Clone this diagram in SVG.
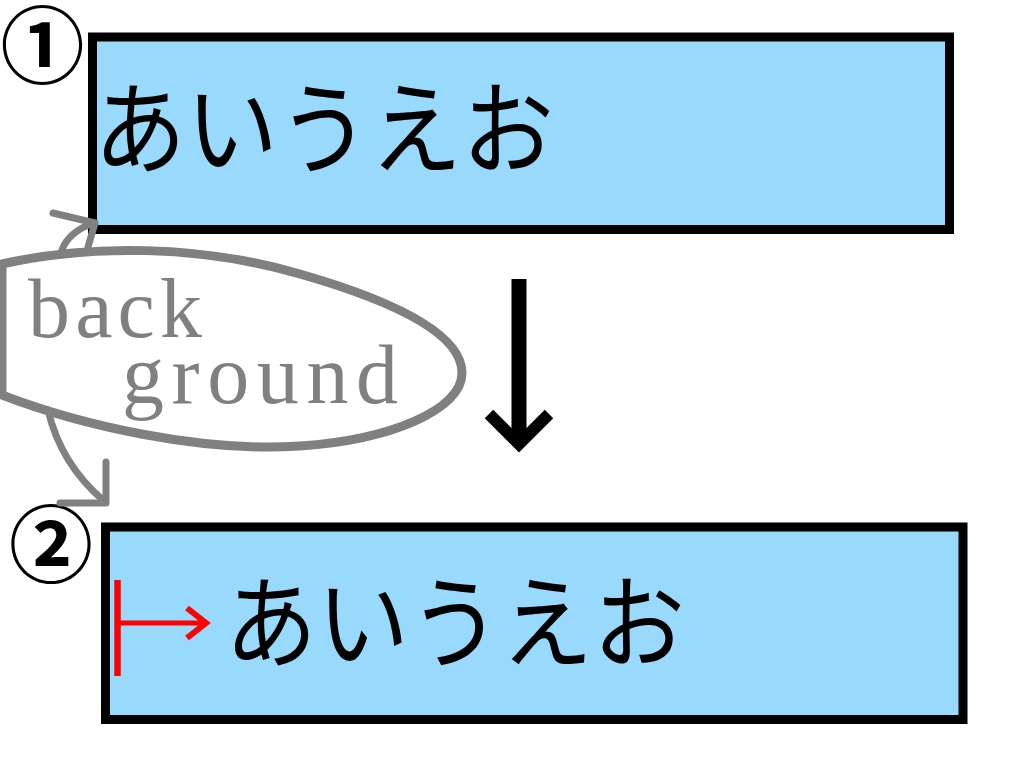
<svg xmlns="http://www.w3.org/2000/svg" width="1024" height="768" viewBox="0 0 1024 768">
<style>
.box{fill:#99D9FC;stroke:#000;stroke-width:9}
.jp{font-family:"Noto Sans CJK JP","Noto Sans CJK SC",sans-serif;font-size:92px;font-weight:400;fill:#000}
.num{font-family:"Noto Sans CJK JP","Noto Sans CJK SC",sans-serif;font-size:84px;font-weight:700;fill:#000;text-anchor:middle}
.gray{fill:none;stroke:#808080;stroke-width:7;stroke-linecap:round;stroke-linejoin:round}
.bg{font-family:"Liberation Serif","DejaVu Serif",serif;font-size:84px;fill:#808080}
</style>
<rect width="1024" height="768" fill="#fff"/>
<g id="node1">
<rect class="box" x="92.5" y="37" width="857" height="192.5"/>
<text class="jp" transform="translate(94,166) scale(1,1.1)" x="0" y="0">あいうえお</text>
<text class="num" x="42.5" y="77">①</text>
</g>
<g id="node2">
<rect class="box" x="105.5" y="527" width="857.5" height="192.5"/>
<text class="jp" transform="translate(225,660) scale(1,1.1)" x="0" y="0">あいうえお</text>
<text class="num" x="51" y="576">②</text>
<g id="indent-marker" fill="none" stroke="#FF0000">
<line x1="117.5" y1="580" x2="117.5" y2="676" stroke-width="6.5"/>
<line x1="117.5" y1="623" x2="205" y2="623" stroke-width="5"/>
<polyline points="187,608 206,623 187,638" stroke-width="6" stroke-linejoin="miter"/>
</g>
</g>
<g id="node-background">
<path d="M2,264 C90,244 200,245 300,274 C380,297 462,330 462,373 C462,410 390,440 300,446 C200,452.7 80,425 2,395 Z" fill="#fff" stroke="#808080" stroke-width="9" stroke-linejoin="round"/>
<text class="bg" x="28" y="337" textLength="174" lengthAdjust="spacing">back</text>
<text class="bg" x="122" y="403" textLength="276" lengthAdjust="spacing">ground</text>
</g>
<g id="connectors">
<line x1="519" y1="279" x2="519" y2="442" stroke="#000" stroke-width="15"/>
<polyline points="489,414 519,444 549,414" fill="none" stroke="#000" stroke-width="12" stroke-linejoin="miter"/>
<path class="gray" d="M62,250 C66,238 78,228 94,223"/>
<polyline class="gray" points="53,213 95,223 88,247"/>
<path class="gray" d="M48,410 C55,440 70,472 104,501"/>
<polyline class="gray" points="106,462 106,503 60,503"/>
</g>
</svg>
